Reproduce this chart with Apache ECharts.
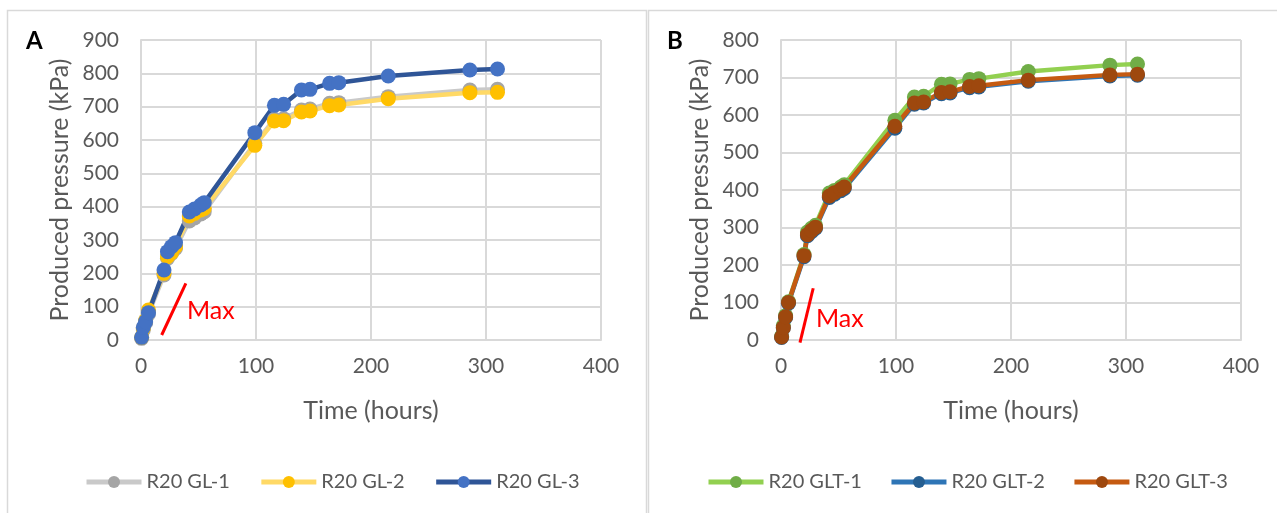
<!DOCTYPE html>
<html>
<head>
<meta charset="utf-8">
<script src="https://cdn.jsdelivr.net/npm/echarts@6/dist/echarts.min.js"></script>
<style>
html,body{margin:0;padding:0;background:#fff;}
#chart{width:1277px;height:513px;}
</style>
</head>
<body>
<div id="chart"></div>
<script>
// Sampling times (hours), shared by all series
const times = [0.5, 2, 4, 6.5, 20, 23, 26.5, 30, 42, 46.5, 52, 55, 99, 116, 124, 139.5, 147, 164, 172, 215, 286, 310];

// Panel A – produced pressure (kPa)
const gl1 = [5, 30, 52, 78, 195, 245, 260, 275, 357, 366, 378, 385, 590, 662, 664, 690, 693, 710, 712, 730, 750, 752];
const gl2 = [8, 35, 58, 90, 200, 250, 262, 280, 372, 380, 390, 395, 584, 657, 658, 684, 687, 703, 705, 724, 742, 743];
const gl3 = [8, 38, 55, 82, 210, 265, 280, 292, 384, 393, 405, 412, 622, 704, 707, 750, 752, 770, 772, 792, 810, 813];

// Panel B – produced pressure (kPa)
const glt1 = [10, 38, 65, 102, 228, 288, 298, 306, 392, 399, 408, 414, 586, 648, 650, 682, 683, 695, 697, 716, 733, 736];
const glt2 = [7, 32, 60, 98, 222, 278, 289, 298, 380, 389, 398, 404, 565, 629, 632, 657, 659, 673, 675, 690, 704, 706];
const glt3 = [8, 33, 62, 100, 225, 281, 292, 301, 384, 393, 402, 408, 570, 632, 635, 660, 662, 676, 678, 693, 707, 709];

const namesA = ['R20 GL-1', 'R20 GL-2', 'R20 GL-3'];
const namesB = ['R20 GLT-1', 'R20 GLT-2', 'R20 GLT-3'];

// "Max" marker lines (data coordinates)
const maxLineA = [[18, 15], [39, 170]];
const maxLineB = [[16.5, -7], [28, 138]];

const FONT = 'Lato, "Open Sans", sans-serif';
const TXT = '#595959';
const GRID = '#d9d9d9';

function pairs(ys) { return times.map((t, i) => [t, ys[i]]); }

function xAx(gi) {
  return {
    type: 'value', gridIndex: gi, min: 0, max: 400, interval: 100,
    name: 'Time (hours)', nameLocation: 'middle', nameGap: 58,
    nameTextStyle: { color: TXT, fontSize: 25, fontFamily: FONT },
    axisLine: { show: true, lineStyle: { color: GRID, width: 2 } },
    axisTick: { show: false },
    axisLabel: { color: TXT, fontSize: 21, fontFamily: FONT, margin: 16 },
    splitLine: { show: true, lineStyle: { color: GRID, width: 2 } }
  };
}
function yAx(gi, max) {
  return {
    type: 'value', gridIndex: gi, min: 0, max: max, interval: 100,
    name: 'Produced pressure (kPa)', nameLocation: 'middle', nameGap: 69,
    nameTextStyle: { color: TXT, fontSize: 25, fontFamily: FONT },
    axisLine: { show: true, lineStyle: { color: GRID, width: 2 } },
    axisTick: { show: false },
    axisLabel: { color: TXT, fontSize: 21, fontFamily: FONT, margin: 22 },
    splitLine: { show: true, lineStyle: { color: GRID, width: 2 } }
  };
}
function ser(name, gi, ys, lineColor, markColor) {
  return {
    name: name, type: 'line', xAxisIndex: gi, yAxisIndex: gi,
    data: pairs(ys), symbol: 'circle', symbolSize: 15,
    lineStyle: { color: lineColor, width: 4.5 },
    itemStyle: { color: markColor },
    emphasis: { disabled: true }, animation: false
  };
}
function maxSer(gi, pts) {
  return {
    name: 'max' + gi, type: 'line', xAxisIndex: gi, yAxisIndex: gi,
    data: pts, symbol: 'none', clip: false, silent: true,
    lineStyle: { color: '#ff0000', width: 3 }, animation: false, z: 1
  };
}
function legend(names, left, iw, gap) {
  return {
    data: names, left: left, top: 472, padding: 0,
    itemWidth: iw, itemHeight: 15, itemGap: gap,
    lineStyle: { width: 5 },
    textStyle: { color: TXT, fontSize: 20, fontFamily: FONT }
  };
}

const chart = echarts.init(document.getElementById('chart'), null, { renderer: 'canvas' });
chart.setOption({
  backgroundColor: '#ffffff',
  animation: false,
  grid: [
    { left: 141, top: 40, width: 460, height: 300 },
    { left: 781, top: 40, width: 460, height: 300 }
  ],
  xAxis: [xAx(0), xAx(1)],
  yAxis: [yAx(0, 900), yAx(1, 800)],
  legend: [legend(namesA, 84, 55, 29), legend(namesB, 706, 55, 27)],
  graphic: [
    { type: 'rect', z: 0, shape: { x: 7.5, y: 10.5, width: 639, height: 520 },
      style: { fill: 'none', stroke: GRID, lineWidth: 1.5 }, silent: true },
    { type: 'rect', z: 0, shape: { x: 648.5, y: 10.5, width: 640, height: 520 },
      style: { fill: 'none', stroke: GRID, lineWidth: 1.5 }, silent: true },
    { type: 'text', z: 100, left: 26, top: 29, style: { text: 'A', font: 'bold 24px ' + FONT, fill: '#000' } },
    { type: 'text', z: 100, left: 667, top: 29, style: { text: 'B', font: 'bold 24px ' + FONT, fill: '#000' } },
    { type: 'text', z: 100, left: 187, top: 298, style: { text: 'Max', font: '25px ' + FONT, fill: '#ff0000' } },
    { type: 'text', z: 100, left: 816, top: 306, style: { text: 'Max', font: '25px ' + FONT, fill: '#ff0000' } }
  ],
  series: [
    maxSer(0, maxLineA),
    ser(namesA[0], 0, gl1, '#c9c9c9', '#a5a5a5'),
    ser(namesA[1], 0, gl2, '#ffd966', '#ffc000'),
    ser(namesA[2], 0, gl3, '#2f5597', '#4472c4'),
    maxSer(1, maxLineB),
    ser(namesB[0], 1, glt1, '#92d050', '#70ad47'),
    ser(namesB[1], 1, glt2, '#2e75b6', '#255e91'),
    ser(namesB[2], 1, glt3, '#c55a11', '#9e480e')
  ]
});
</script>
</body>
</html>
